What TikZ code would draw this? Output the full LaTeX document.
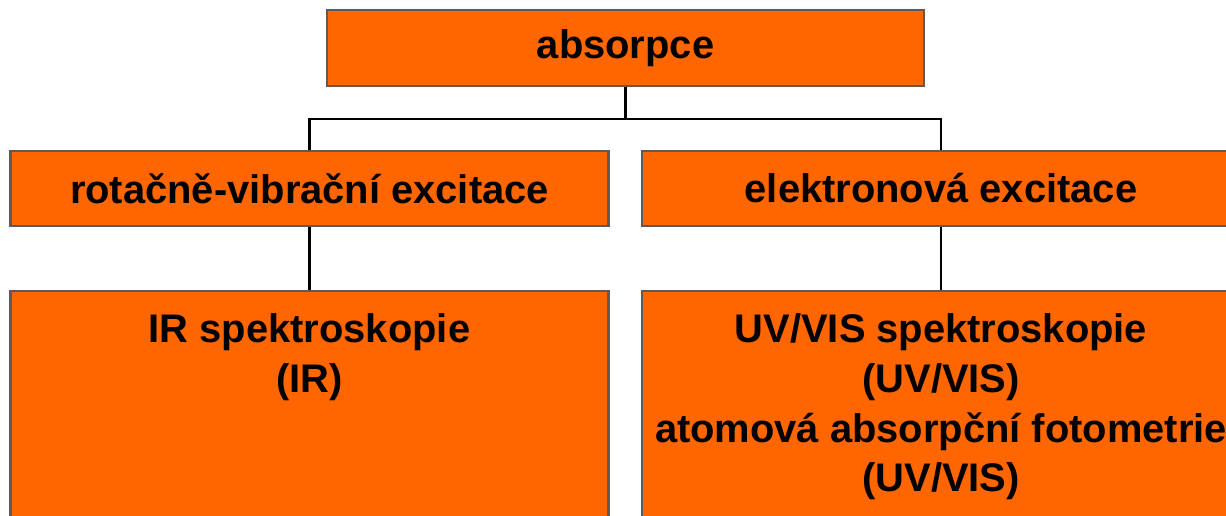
\documentclass[tikz,border=0pt]{standalone}
\usepackage{fontspec}
\setmainfont{Liberation Sans}
\usetikzlibrary{positioning}
\definecolor{boxorange}{HTML}{FF6600}
\definecolor{boxedge}{HTML}{5F5A55}
\tikzset{
  orangebox/.style={draw=boxedge, line width=1.2pt, fill=boxorange, inner sep=0pt,
    minimum width=11.96cm, font=\fontsize{22.7}{28.4}\selectfont\bfseries},
  boxtext/.style={anchor=north, align=center, inner sep=0pt,
    font=\fontsize{22.7}{28.4}\selectfont\bfseries},
  link/.style={line width=1.2pt, black}
}
\begin{document}
\begin{tikzpicture}
    \useasboundingbox (0,0) rectangle (24.52,-10.3);
    \clip (0,0) rectangle (24.52,-10.3);

    \node[orangebox, minimum width=11.94cm, minimum height=1.52cm] (absorpce) at (12.51,-0.96) {absorpce};

    \node[orangebox, minimum height=1.5cm] (rotvib) at (6.19,-3.77) {rotačně-vibrační excitace};
    \node[orangebox, minimum height=1.5cm] (elektr) at (18.82,-3.77) {elektronová excitace};

    \node[orangebox, minimum height=4.98cm] (ir) at (6.19,-8.31) {};
    \node[orangebox, minimum height=4.98cm] (uvvis) at (18.82,-8.31) {};

    \node[boxtext, below=0.46cm of ir.north] (irtext) {IR spektroskopie\\(IR)};
    \node[boxtext, below=0.46cm of uvvis.north] (uvtext) {UV/VIS spektroskopie\\(UV/VIS)\\atomová absorpční fotometrie\\(UV/VIS)};

    % spojnice
    \coordinate[below=0.64cm of absorpce.south] (split);
    \draw[link] (absorpce.south) -- (split);
    \draw[link] (split) -| (rotvib.north);
    \draw[link] (split) -| (elektr.north);
    \draw[link] (rotvib.south) -- (ir.north);
    \draw[link] (elektr.south) -- (uvvis.north);
\end{tikzpicture}
\end{document}
